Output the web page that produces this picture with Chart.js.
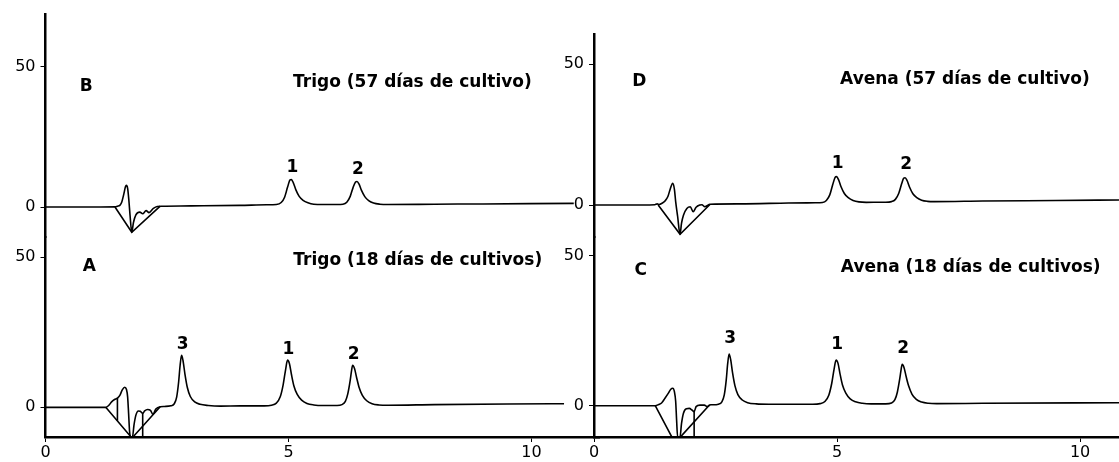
<!DOCTYPE html>
<html>
<head>
<meta charset="utf-8">
<script src="https://cdn.jsdelivr.net/npm/chart.js@4"></script>
<style>
  html, body { margin: 0; padding: 0; background: #fff; }
  body { width: 1119px; height: 462px; position: relative; overflow: hidden; }
  canvas { position: absolute; top: 0; }
  #chart-left { left: 0; }
  #chart-right { left: 540px; }
</style>
</head>
<body>
<canvas id="chart-left" width="600" height="462"></canvas>
<canvas id="chart-right" width="579" height="462"></canvas>
<script>
// axes
const X_TICKS = [0, 5, 10]
const Y_TICKS = [0, 50]

// B : Trigo (57 días de cultivo) - [tiempo, señal]
const B_SIGNAL = [
  [0, 0], [1.0, 0], [1.43, 0.05], [1.48, 0.3], [1.53, 0.6], [1.57, 1.8], [1.61, 4.5],
  [1.645, 7.2], [1.665, 7.7], [1.69, 6.6], [1.715, 2.5], [1.74, -3], [1.775, -9],
  [1.81, -5.5], [1.86, -2.8], [1.94, -1.8], [2.0, -2.4], [2.07, -1.3], [2.13, -2.0],
  [2.22, -0.5], [2.3, 0.2], [2.4, 0.3], [3.0, 0.4], [4.0, 0.6],
  [4.55, 0.8], [4.75, 0.9], [4.85, 1.6], [4.92, 3.5], [4.98, 7], [5.03, 9.6], [5.06, 9.8],
  [5.1, 8.6], [5.15, 6.2], [5.22, 3.8], [5.3, 2.4], [5.4, 1.5], [5.52, 1.0], [5.7, 0.9],
  [6.0, 0.9], [6.12, 1.0], [6.2, 1.7], [6.27, 3.8], [6.33, 7], [6.38, 8.9], [6.41, 9.1],
  [6.45, 8.2], [6.5, 6], [6.57, 3.7], [6.65, 2.3], [6.75, 1.4], [6.88, 1.0], [7.05, 0.9],
  [8.0, 1.0], [9.0, 1.1], [10.87, 1.3],
]
const B_SKIM = [[1.43, 0], [1.775, -9], [2.36, 0.3]]
const B_PEAK_NAMES = ['1', '2']
const B_PEAK_TIMES = [5.06, 6.41]

// A : Trigo (18 días de cultivos)
const A_SIGNAL = [
  [0, 0], [1.0, 0], [1.24, 0], [1.3, 0.6], [1.36, 1.8], [1.42, 2.6], [1.48, 3.1],
  [1.53, 4.0], [1.58, 5.8], [1.63, 6.7], [1.665, 6.0], [1.69, 3.5], [1.71, -2],
  [1.73, -8], [1.75, -9.85], [1.79, -9.85], [1.82, -6], [1.86, -2.6], [1.91, -1.2],
  [1.95, -1.3], [2.0, -2.0], [2.04, -1.2], [2.1, -0.7], [2.16, -1.0], [2.21, -2.3],
  [2.27, -0.6], [2.36, 0.2], [2.45, 0.3],
  [2.58, 0.5], [2.65, 1.2], [2.7, 3.5], [2.74, 8.5], [2.77, 14], [2.8, 17.3], [2.83, 15.5],
  [2.87, 11], [2.92, 6.5], [2.98, 3.6], [3.07, 1.8], [3.18, 1.0], [3.35, 0.6], [3.6, 0.4],
  [4.0, 0.5], [4.5, 0.5], [4.65, 0.7], [4.75, 1.4], [4.83, 3.5], [4.89, 7.5], [4.94, 12.5],
  [4.98, 15.7], [5.02, 14.5], [5.06, 11], [5.11, 7.2], [5.18, 4.3], [5.27, 2.4], [5.38, 1.3],
  [5.52, 0.8], [5.7, 0.6], [6.0, 0.6], [6.1, 0.9], [6.17, 2.0], [6.22, 4.5], [6.27, 9],
  [6.3, 12.5], [6.32, 14.0], [6.36, 12.8], [6.4, 10], [6.45, 6.8], [6.52, 4], [6.61, 2.2],
  [6.72, 1.2], [6.86, 0.8], [7.05, 0.7], [8.0, 0.9], [9.5, 1.1], [10.67, 1.2],
]
const A_SKIM = [[1.24, 0], [1.76, -9.85], [1.8, -9.85], [2.36, 0.2]]
const A_DROPS = [[1.48, 3.1], [1.48, -4.5], [1.49, null], [2.0, -2.0], [2.0, -9.85]]
const A_PEAK_NAMES = ['3', '1', '2']
const A_PEAK_TIMES = [2.8, 4.98, 6.32]

// D : Avena (57 días de cultivo)
const D_SIGNAL = [
  [0, 0], [1.0, 0], [1.25, 0.1], [1.3, 0.4], [1.34, 0.2], [1.4, 0.6], [1.46, 1.4],
  [1.52, 3], [1.57, 5.8], [1.62, 7.7], [1.655, 5.5], [1.68, 1.2], [1.72, -4],
  [1.77, -10.4], [1.8, -6.5], [1.84, -3.6], [1.91, -1.2], [1.98, -0.6], [2.04, -2.4],
  [2.1, -0.8], [2.18, 0], [2.22, 0.1], [2.28, -0.6], [2.39, 0.25], [3.0, 0.4], [4.0, 0.7],
  [4.55, 0.8], [4.7, 0.9], [4.78, 1.6], [4.85, 3.6], [4.91, 7.2], [4.96, 9.8], [4.99, 10.1],
  [5.03, 9.0], [5.08, 6.6], [5.15, 4.1], [5.23, 2.6], [5.33, 1.6], [5.45, 1.1], [5.6, 0.95],
  [5.9, 1.0], [6.0, 1.0], [6.12, 1.2], [6.2, 2.0], [6.27, 4.2], [6.33, 7.6], [6.37, 9.5],
  [6.4, 9.7], [6.44, 8.7], [6.49, 6.4], [6.56, 4.0], [6.64, 2.6], [6.74, 1.7], [6.86, 1.3],
  [7.0, 1.2], [8.0, 1.4], [9.5, 1.6], [10.8, 1.8],
]
const D_SKIM = [[1.32, 0], [1.77, -10.4], [2.39, 0.25]]
const D_PEAK_NAMES = ['1', '2']
const D_PEAK_TIMES = [4.99, 6.4]

// C : Avena (18 días de cultivos)
const C_SIGNAL = [
  [0, 0], [1.0, 0], [1.26, 0], [1.33, 0.4], [1.39, 0.9], [1.46, 2.5], [1.53, 4.2],
  [1.58, 5.5], [1.62, 5.8], [1.655, 4.6], [1.68, 1.5], [1.7, -5], [1.72, -10.4],
  [1.77, -10.4], [1.8, -6], [1.84, -2.5], [1.9, -1.0], [1.96, -0.9], [2.02, -1.5],
  [2.06, -2], [2.1, -0.3], [2.18, 0.2], [2.27, 0.2], [2.33, -0.3], [2.4, 0.3], [2.45, 0.3],
  [2.56, 0.5], [2.63, 1.3], [2.68, 3.6], [2.72, 8.5], [2.75, 14], [2.78, 17.2], [2.81, 15.5],
  [2.85, 11], [2.9, 6.6], [2.96, 3.7], [3.05, 1.9], [3.16, 1.0], [3.34, 0.6], [3.6, 0.5],
  [4.0, 0.5], [4.5, 0.5], [4.65, 0.7], [4.75, 1.4], [4.83, 3.5], [4.89, 7.4], [4.94, 12.3],
  [4.98, 15.2], [5.02, 14.1], [5.06, 10.7], [5.11, 7.0], [5.18, 4.2], [5.27, 2.3], [5.38, 1.3],
  [5.52, 0.8], [5.7, 0.6], [6.0, 0.6], [6.12, 0.9], [6.19, 2.0], [6.24, 4.5], [6.29, 9],
  [6.32, 12.3], [6.34, 13.8], [6.38, 12.6], [6.42, 9.8], [6.47, 6.7], [6.54, 3.9], [6.63, 2.1],
  [6.74, 1.2], [6.88, 0.8], [7.05, 0.7], [8.0, 0.8], [10.8, 1.0],
]
const C_SKIM = [[1.26, 0], [1.6, -10.4], [1.78, -10.4], [2.38, 0.3]]
const C_DROPS = [[2.06, -2], [2.06, -10.4]]
const C_PEAK_NAMES = ['3', '1', '2']
const C_PEAK_TIMES = [2.78, 4.98, 6.34]

const FONT = '"DejaVu Sans", Verdana, sans-serif'

/* Dessine les lettres, les titres et les numéros de pics à partir des échelles */
const panelText = {
  id: 'panelText',
  afterDatasetsDraw(chart, args, opts) {
    const ctx = chart.ctx
    const xs = chart.scales.x
    ctx.save()
    ctx.fillStyle = '#000'
    ctx.font = 'bold 17px ' + FONT
    ctx.textAlign = 'center'
    ctx.textBaseline = 'middle'
    for (const p of opts.panels) {
      const ys = chart.scales[p.axis]
      ctx.fillText(p.letter, xs.getPixelForValue(p.letterAt[0]), ys.getPixelForValue(p.letterAt[1]))
      ctx.fillText(p.title, xs.getPixelForValue(p.titleAt[0]), ys.getPixelForValue(p.titleAt[1]))
      for (let i = 0; i < p.names.length; i++) {
        const t = p.times[i]
        let top = -Infinity
        for (const pt of p.signal) {
          if (Math.abs(pt[0] - t) < 0.08 && pt[1] > top) top = pt[1]
        }
        ctx.fillText(p.names[i], xs.getPixelForValue(t) + 1, ys.getPixelForValue(top) - p.gap)
      }
    }
    ctx.restore()
  },
}

function line(data, axis, smooth) {
  return {
    data: data,
    yAxisID: axis,
    borderColor: '#000',
    borderWidth: 1.6,
    pointRadius: 0,
    fill: false,
    spanGaps: false,
    tension: 0,
    cubicInterpolationMode: smooth ? 'monotone' : 'default',
  }
}

function yScale(min, max, weight, order) {
  return {
    type: 'linear',
    position: 'left',
    stack: 'panel',
    stackWeight: weight,
    weight: order,
    min: min,
    max: max,
    afterBuildTicks: (s) => { s.ticks = Y_TICKS.map((v) => ({ value: v })) },
    grid: { drawOnChartArea: false, color: '#000', tickLength: 5, lineWidth: 1 },
    border: { color: '#000', width: 2.5 },
    ticks: { color: '#000', font: { family: FONT, size: 16 }, padding: 5 },
  }
}

function makeChart(id, datasets, scalesY, yWidth, padTop, xMax, panels) {
  const scales = {
    x: {
      type: 'linear',
      min: 0,
      max: xMax,
      afterBuildTicks: (s) => { s.ticks = X_TICKS.map((v) => ({ value: v })) },
      afterFit: (s) => { s.height = 25 },
      grid: { drawOnChartArea: false, color: '#000', tickLength: 5, lineWidth: 1 },
      border: { color: '#000', width: 2.5 },
      ticks: { color: '#000', font: { family: FONT, size: 16 }, padding: 1, maxRotation: 0, autoSkip: false },
    },
  }
  for (const k in scalesY) {
    scales[k] = scalesY[k]
    scales[k].afterFit = (s) => { s.width = yWidth }
  }
  return new Chart(document.getElementById(id), {
    type: 'line',
    data: { datasets: datasets },
    options: {
      responsive: false,
      animation: false,
      events: [],
      parsing: true,
      layout: { padding: { top: padTop, right: 0, left: 0, bottom: 0 } },
      plugins: { legend: { display: false }, tooltip: { enabled: false }, panelText: { panels: panels } },
      scales: scales,
    },
    plugins: [panelText],
  })
}

// Graphique de gauche : Trigo
makeChart('chart-left', [
  line(B_SIGNAL, 'yB', true),
  line(B_SKIM, 'yB', false),
  line(A_SIGNAL, 'yA', true),
  line(A_SKIM, 'yA', false),
  line(A_DROPS, 'yA', false),
], {
  yB: yScale(-10.77, 68.48, 223, 1),
  yA: yScale(-9.87, 56.58, 200, 0),
}, 45.5, 14, 11.41, [
  { axis: 'yB', signal: B_SIGNAL, names: B_PEAK_NAMES, times: B_PEAK_TIMES, gap: 12,
    letter: 'B', letterAt: [0.84, 42.9], title: 'Trigo (57 días de cultivo)', titleAt: [7.55, 44.3] },
  { axis: 'yA', signal: A_SIGNAL, names: A_PEAK_NAMES, times: A_PEAK_TIMES, gap: 11,
    letter: 'A', letterAt: [0.9, 46.7], title: 'Trigo (18 días de cultivos)', titleAt: [7.66, 48.7] },
])

// Graphique de droite : Avena
makeChart('chart-right', [
  line(D_SIGNAL, 'yD', true),
  line(D_SKIM, 'yD', false),
  line(C_SIGNAL, 'yC', true),
  line(C_SKIM, 'yC', false),
  line(C_DROPS, 'yC', false),
], {
  yD: yScale(-11.37, 60.77, 203, 1),
  yC: yScale(-10.43, 56.23, 200, 0),
}, 54, 34, 10.8, [
  { axis: 'yD', signal: D_SIGNAL, names: D_PEAK_NAMES, times: D_PEAK_TIMES, gap: 13.5,
    letter: 'D', letterAt: [0.93, 43.9], title: 'Avena (57 días de cultivo)', titleAt: [7.63, 44.4] },
  { axis: 'yC', signal: C_SIGNAL, names: C_PEAK_NAMES, times: C_PEAK_TIMES, gap: 16,
    letter: 'C', letterAt: [0.96, 45.2], title: 'Avena (18 días de cultivos)', titleAt: [7.75, 46.1] },
])
</script>
</body>
</html>
